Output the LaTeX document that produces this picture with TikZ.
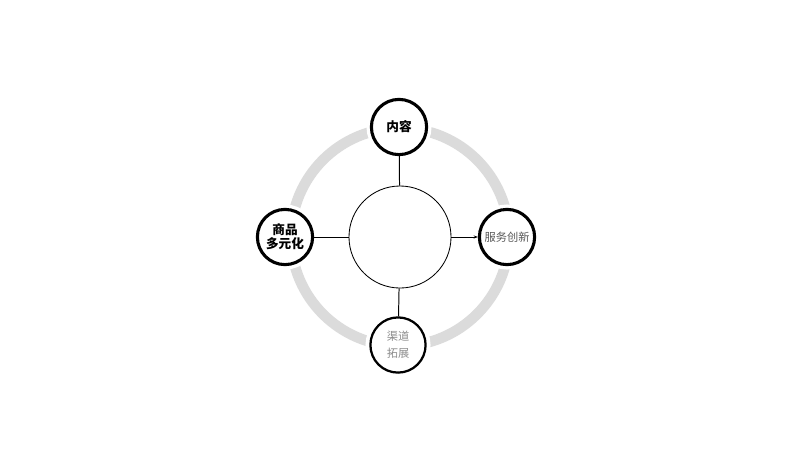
\documentclass[tikz,border=0pt]{standalone}
\usepackage{fontspec}
\newfontfamily\cjk{Noto Sans CJK SC}
\usetikzlibrary{arrows.meta}

\tikzset{
  hubnode/.style={circle, draw, line width=0.6pt, fill=white, minimum size=2.55cm, inner sep=0pt},
  topicnode/.style={circle, draw, line width=2.2pt, fill=white, minimum size=1.38cm, inner sep=0pt,
    preaction={draw=white, line width=7pt},
    align=center, font=\cjk\bfseries\fontsize{9}{11}\selectfont},
  spoke/.style={line width=0.7pt}
}

\begin{document}
\begin{tikzpicture}[x=0.025cm, y=-0.025cm]
  \useasboundingbox (0,0) rectangle (800,450);

  % dotted ring
  \draw[black!14, line width=7.5pt] (400,237) circle (109);

  % centre
  \node[hubnode] (hub) at (400,237) {};

  % topics
  \node[topicnode] (content) at (399,127) {内容};
  \node[topicnode] (goods) at (285,237) {商品\\[-1pt]多元化};
  \node[topicnode, text=black!65, font=\cjk\fontsize{8}{10}\selectfont] (service) at (507,237) {服务创新};
  \node[topicnode, line width=1.6pt, text=black!45, font=\cjk\fontsize{8}{12}\selectfont] (channel) at (398,345) {渠道\\拓展};

  % spokes
  \draw[spoke] (hub) -- (content);
  \draw[spoke] (hub) -- (goods);
  \draw[spoke, -{Stealth[length=3pt]}] (hub) -- (service);
  \draw[spoke] (hub) -- (channel);

\end{tikzpicture}
\end{document}
